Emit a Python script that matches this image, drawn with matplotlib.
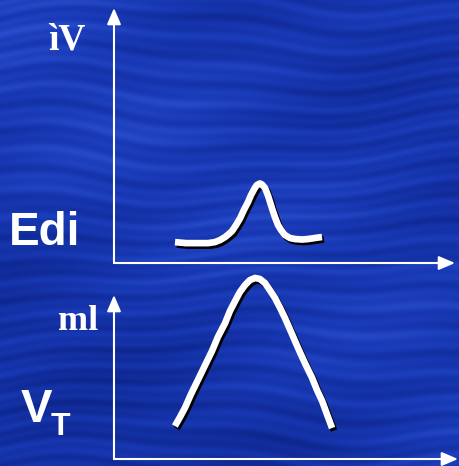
import numpy as np
import matplotlib
matplotlib.use("Agg")
import matplotlib.pyplot as plt
import matplotlib.patheffects as pe
from matplotlib.colors import LinearSegmentedColormap

# ===============================
# Dados (unidades arbitrárias, eixos 0..10)
# ===============================

# Edi (atividade elétrica do diafragma) - painel de cima
edi_t = [1.79, 2.11, 2.46, 2.76, 2.96, 3.11, 3.26, 3.37, 3.46, 3.58, 3.70,
         3.81, 3.93, 4.02, 4.13, 4.19, 4.28, 4.34, 4.43, 4.52, 4.63, 4.72,
         4.81, 4.90, 5.01, 5.16, 5.31, 5.51, 5.69, 5.89, 6.10]
edi_v = [0.82, 0.78, 0.78, 0.78, 0.82, 0.90, 1.02, 1.14, 1.25, 1.49, 1.76,
         2.08, 2.39, 2.67, 2.94, 3.06, 3.12, 3.08, 2.94, 2.63, 2.16, 1.80,
         1.49, 1.29, 1.10, 0.98, 0.94, 0.92, 0.94, 0.98, 1.02]

# VT (volume corrente) - painel de baixo
vt_t = [1.77, 1.92, 2.06, 2.24, 2.44, 2.65, 2.85, 3.02, 3.23, 3.37, 3.52,
        3.66, 3.81, 3.95, 4.10, 4.24, 4.39, 4.53, 4.68, 4.83, 4.97, 5.15,
        5.35, 5.55, 5.76, 5.90, 6.05, 6.19, 6.34]
vt_v = [2.01, 2.56, 3.11, 3.96, 4.82, 5.73, 6.59, 7.44, 8.29, 9.02, 9.63,
        10.18, 10.61, 10.91, 11.04, 10.98, 10.73, 10.30, 9.82, 9.21, 8.60,
        7.74, 6.77, 5.85, 4.94, 4.21, 3.54, 2.74, 1.89]

# Textos
unidade_edi = 'ìV'
unidade_vt = 'ml'
nome_edi = 'Edi'
nome_vt = 'V'
sub_vt = 'T'

fig = plt.figure(figsize=(4.6, 4.66), dpi=100)

# Fundo azul tipo "água" (textura decorativa feita com senos)
fundo = fig.add_axes([0, 0, 1, 1], zorder=0)
yy, xx = np.mgrid[0:466, 0:460]
onda = yy + 9 * np.sin(xx * 0.011 + yy * 0.015) + 4 * np.sin(xx * 0.031)
tex = (0.55
       + 0.09 * np.sin(onda * 0.21)
       + 0.07 * np.sin(onda * 0.53 + 1.7 * np.sin(xx * 0.017))
       + 0.10 * np.sin(yy * 0.012 - xx * 0.009 + 1.0)
       + 0.06 * np.sin(xx * 0.02 + yy * 0.04)
       - 0.12 * (yy / 466.0))
cmap_agua = LinearSegmentedColormap.from_list('agua', ['#0c2488', '#1838b4', '#2f56d6'])
fundo.imshow(tex, cmap=cmap_agua, vmin=0.1, vmax=1.0, aspect='auto',
             interpolation='bilinear')
fundo.set_axis_off()


def desenha_eixos(ax):
    # eixos brancos com setas
    ax.set_xlim(0, 10)
    ax.set_ylim(0, 10)
    ax.set_axis_off()
    seta = dict(arrowstyle='-|>,head_length=0.7,head_width=0.3', color='white',
                lw=1.5, shrinkA=0, shrinkB=0, mutation_scale=14)
    ax.annotate('', xy=(0, 1), xytext=(0, 0), xycoords='axes fraction',
                arrowprops=seta, annotation_clip=False)
    ax.annotate('', xy=(1, 0), xytext=(0, 0), xycoords='axes fraction',
                arrowprops=seta, annotation_clip=False)


sombra = [pe.SimpleLineShadow(offset=(1.4, -1.8), shadow_color='black', alpha=1.0),
          pe.Normal()]

# Painel de cima: Edi
ax1 = fig.add_axes([0.2478, 0.4356, 0.7413, 0.5472], zorder=2)
ax1.patch.set_alpha(0)
desenha_eixos(ax1)
ax1.plot(edi_t, edi_v, color='white', lw=4.8, solid_capstyle='butt',
         solid_joinstyle='round', path_effects=sombra, clip_on=False)

# Painel de baixo: VT
ax2 = fig.add_axes([0.2478, 0.0150, 0.7478, 0.3519], zorder=2)
ax2.patch.set_alpha(0)
desenha_eixos(ax2)
ax2.plot(vt_t, vt_v, color='white', lw=4.8, solid_capstyle='butt',
         solid_joinstyle='round', path_effects=sombra, clip_on=False)

# Rótulos
serif = ['Liberation Serif', 'DejaVu Serif']
sans = ['Liberation Sans', 'DejaVu Sans']
fig.text(67 / 460, 1 - 40 / 466, unidade_edi, color='white', fontsize=27,
         fontweight='bold', family=serif, ha='center', va='center', zorder=3)
fig.text(78 / 460, 1 - 321 / 466, unidade_vt, color='white', fontsize=26,
         fontweight='bold', family=serif, ha='center', va='center', zorder=3)
fig.text(9 / 460, 1 - 245 / 466, nome_edi, color='white', fontsize=33,
         fontweight='bold', family=sans, ha='left', va='baseline', zorder=3)
fig.text(21 / 460, 1 - 422 / 466, nome_vt, color='white', fontsize=34,
         fontweight='bold', family=sans, ha='left', va='baseline', zorder=3)
fig.text(51 / 460, 1 - 435 / 466, sub_vt, color='white', fontsize=23,
         fontweight='bold', family=sans, ha='left', va='baseline', zorder=3)

fig.savefig('out.png', dpi=100)
